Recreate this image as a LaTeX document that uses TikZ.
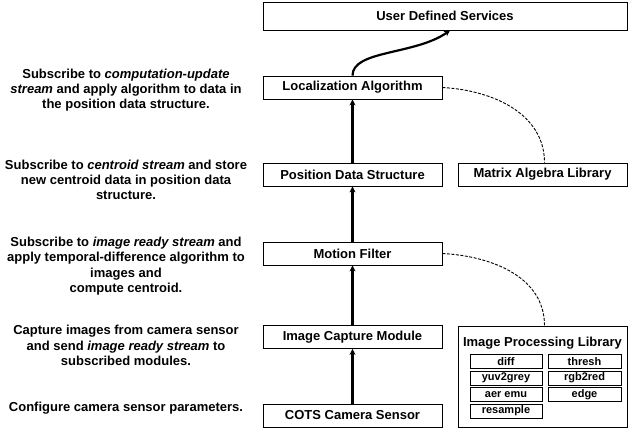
\documentclass[tikz,border=0pt]{standalone}
\usepackage{fontspec}
\setmainfont{Liberation Sans}
\usepackage{tikz}
\usetikzlibrary{arrows.meta}

\begin{document}
\begin{tikzpicture}[x=1bp, y=-1bp,
  box/.style={draw, line width=0.8bp, minimum width=179bp, minimum height=23bp, inner sep=0pt, font=\bfseries\fontsize{13bp}{15bp}\selectfont},
  libbox/.style={draw, line width=0.8bp, minimum width=72bp, minimum height=14bp, inner sep=0pt, font=\bfseries\fontsize{11bp}{13bp}\selectfont},
  note/.style={align=center, font=\bfseries\fontsize{13bp}{15.3bp}\selectfont},
  flow/.style={line width=2.2bp, -{Stealth[length=6bp, width=6bp]}},
  uses/.style={line width=0.9bp, dash pattern=on 3bp off 1.5bp}]
  \useasboundingbox (0,0) rectangle (629,430);

  % Draw the module stack
  \node[box, minimum width=364bp, minimum height=28bp] (uds) at (445,16) {User Defined Services};
  \node[box] (loc) at (352.5,87.5) {Localization Algorithm};
  \node[box] (pos) at (352.5,174.5) {Position Data Structure};
  \node[box, minimum width=169bp] (matrix) at (542.5,174.5) {Matrix Algebra Library};
  \node[box] (motion) at (352.5,253.5) {Motion Filter};
  \node[box] (capture) at (352.5,337) {Image Capture Module};
  \node[box] (cots) at (352.5,415.5) {COTS Camera Sensor};

  % Image processing library and its functions
  \node[draw, line width=0.8bp, minimum width=169bp, minimum height=101bp] (imglib) at (542.5,376.5) {};
  \node[font=\bfseries\fontsize{13bp}{15bp}\selectfont] (imgtitle) at (542.5,343) {Image Processing Library};
  \node[libbox] (diff) at (506,361.5) {diff};
  \node[libbox, minimum width=73bp] (thresh) at (584.5,361.5) {thresh};
  \node[libbox] (yuv) at (506,378) {yuv2grey};
  \node[libbox, minimum width=73bp] (rgb) at (584.5,378) {rgb2red};
  \node[libbox] (aer) at (506,394.5) {aer emu};
  \node[libbox, minimum width=73bp] (edge) at (584.5,394.5) {edge};
  \node[libbox] (resample) at (506,411) {resample};

  % Descriptions on the left
  \node[note] (locnote) at (126,90) {Subscribe to \textit{computation-update}\\\textit{stream} and apply algorithm to data in\\the position data structure.};
  \node[note] (posnote) at (126,180) {Subscribe to \textit{centroid stream} and store\\new centroid data in position data\\structure.};
  \node[note] (motionnote) at (126,266) {Subscribe to \textit{image ready stream} and\\apply temporal-difference algorithm to\\images and\\compute centroid.};
  \node[note] (capturenote) at (126,345.5) {Capture images from camera sensor\\and send \textit{image ready stream} to\\subscribed modules.};
  \node[note] (cotsnote) at (126,408) {Configure camera sensor parameters.};

  % Data flow
  \draw[flow] (cots) -- (capture);
  \draw[flow] (capture) -- (motion);
  \draw[flow] (motion) -- (pos);
  \draw[flow] (pos) -- (loc);
  \draw[flow] (loc.north) .. controls (352.5,50) and (415,55) .. ([xshift=5bp]uds.south);

  % Library usage
  \draw[uses] (loc.east) to[out=-3, in=90] ([xshift=2bp]matrix.north);
  \draw[uses] (motion.east) to[out=-3, in=90] ([xshift=2bp]imglib.north);
\end{tikzpicture}
\end{document}
